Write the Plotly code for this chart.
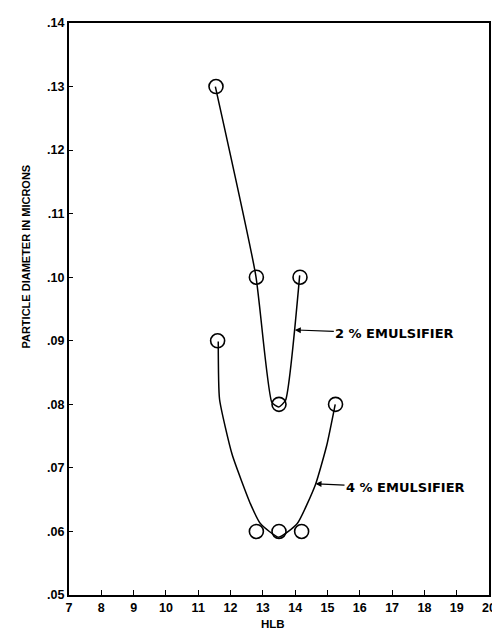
import plotly.graph_objects as go

# --- data ---
hlb_2pct = [11.55, 12.8, 13.5, 14.15]
diam_2pct = [0.130, 0.100, 0.080, 0.100]

hlb_4pct = [11.6, 12.8, 13.5, 14.2, 15.25]
diam_4pct = [0.090, 0.060, 0.060, 0.060, 0.080]

# hand-drawn curves
curve2_x = [11.53, 12.78, 13.28, 13.49, 13.70, 14.14]
curve2_y = [0.130, 0.1003, 0.0803, 0.0796, 0.0806, 0.1003]

curve4_x = [11.62, 11.66, 12.05, 12.62, 12.93, 13.49, 14.06, 14.63, 14.98, 15.24]
curve4_y = [0.0899, 0.0808, 0.0721, 0.0643, 0.0612, 0.0591, 0.0612, 0.0674, 0.0736, 0.0800]

x_ticks = list(range(7, 21))
x_ticklabels = [str(v) for v in x_ticks]
y_ticks = [0.05, 0.06, 0.07, 0.08, 0.09, 0.10, 0.11, 0.12, 0.13, 0.14]
y_ticklabels = [".05", ".06", ".07", ".08", ".09", ".10", ".11", ".12", ".13", ".14"]

label_2 = "2 % EMULSIFIER"
label_4 = "4 % EMULSIFIER"

fig = go.Figure()

line_style = dict(color="black", width=1.5, shape="spline", smoothing=0.5)
fig.add_trace(go.Scatter(x=curve2_x, y=curve2_y, mode="lines", line=line_style,
                         hoverinfo="skip", showlegend=False))
fig.add_trace(go.Scatter(x=curve4_x, y=curve4_y, mode="lines", line=line_style,
                         hoverinfo="skip", showlegend=False))

marker_style = dict(symbol="circle-open", size=14, color="black", line=dict(width=1.6, color="black"))
fig.add_trace(go.Scatter(x=hlb_2pct, y=diam_2pct, mode="markers", marker=marker_style,
                         name=label_2, showlegend=False))
fig.add_trace(go.Scatter(x=hlb_4pct, y=diam_4pct, mode="markers", marker=marker_style,
                         name=label_4, showlegend=False))

ann_font = dict(family="DejaVu Sans", size=13, color="black", weight="bold")
fig.add_annotation(x=13.99, y=0.0917, xref="x", yref="y", text=label_2,
                   showarrow=True, arrowhead=2, arrowsize=1, arrowwidth=1.2,
                   arrowcolor="black", ax=100, ay=3.5, font=ann_font)
fig.add_annotation(x=14.63, y=0.0675, xref="x", yref="y", text=label_4,
                   showarrow=True, arrowhead=2, arrowsize=1, arrowwidth=1.2,
                   arrowcolor="black", ax=90, ay=4, font=ann_font)

fig.add_annotation(x=-0.121, y=0.592, xref="paper", yref="paper",
                   text="PARTICLE DIAMETER IN MICRONS", textangle=-90, showarrow=False,
                   font=dict(family="Liberation Sans", size=11, color="black", weight="bold"))
fig.add_annotation(x=0.486, y=-0.064, xref="paper", yref="paper", text="HLB",
                   showarrow=False,
                   font=dict(family="Liberation Sans", size=11.5, color="black", weight="bold"))

tick_font = dict(family="Liberation Sans", size=12.5, color="black", weight="bold")
fig.update_xaxes(range=[7, 20], tickvals=x_ticks, ticktext=x_ticklabels,
                 ticks="inside", ticklen=5, tickwidth=1.2, tickcolor="black",
                 showline=True, linecolor="black", linewidth=2, mirror=True,
                 showgrid=False, zeroline=False, tickfont=tick_font)
fig.update_yaxes(range=[0.05, 0.14], tickvals=y_ticks, ticktext=y_ticklabels,
                 ticks="inside", ticklen=4, tickwidth=1.2, tickcolor="black",
                 showline=True, linecolor="black", linewidth=2, mirror=True,
                 showgrid=False, zeroline=False, tickfont=tick_font)

# the page body adds an 8px offset; margins compensate so the plot area sits where the reference has it
fig.update_layout(width=500, height=637, margin=dict(l=61, r=19, t=8, b=50),
                  plot_bgcolor="white", paper_bgcolor="white", showlegend=False)

fig.write_html("out.html")
